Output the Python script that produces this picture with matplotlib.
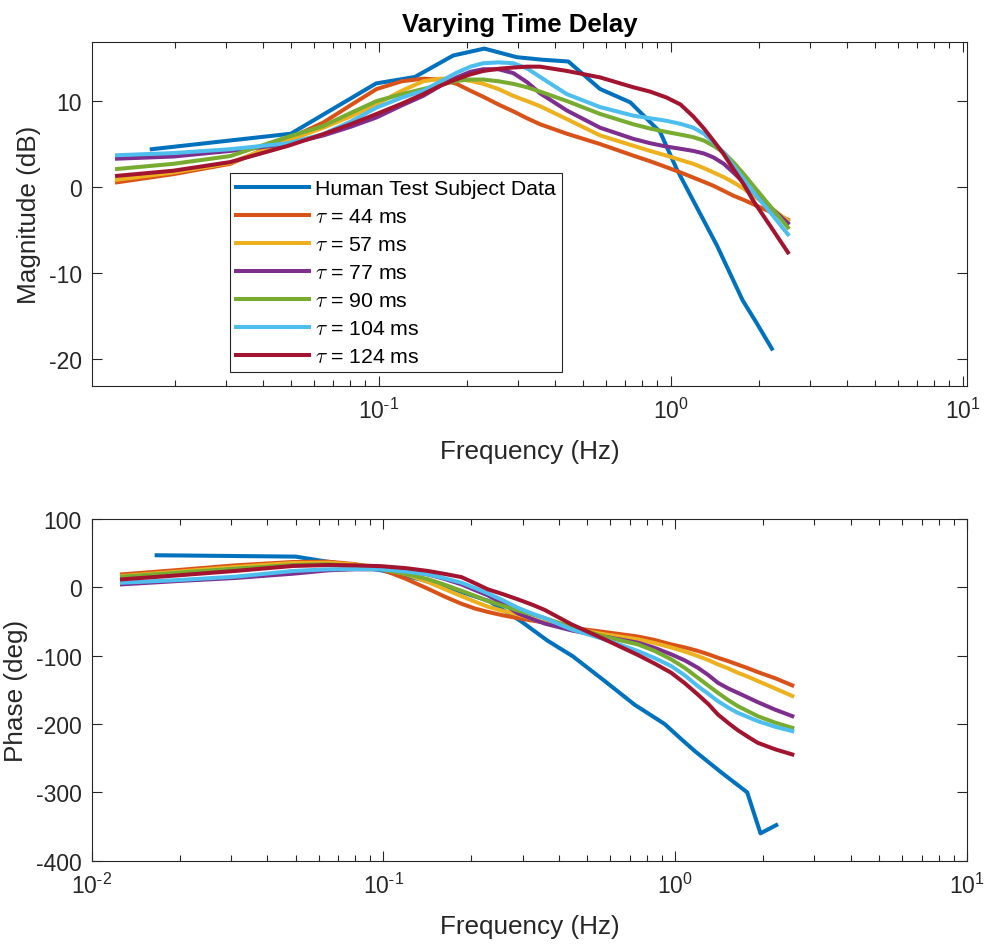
import numpy as np
import matplotlib
matplotlib.use("Agg")
from matplotlib import pyplot as plt
from matplotlib.ticker import FuncFormatter

plt.rcParams['font.family'] = ['Liberation Sans', 'DejaVu Sans']
plt.rcParams['mathtext.fontset'] = 'cm'
plt.rcParams['axes.unicode_minus'] = False

# human test subject data
freq_h = [0.0167, 0.05, 0.098, 0.133, 0.18, 0.23, 0.297, 0.365, 0.446, 0.573,
          0.727, 0.92, 1.048, 1.17, 1.44, 1.765, 1.96, 2.22]
mag_h = [4.4, 6.2, 12.05, 12.8, 15.3, 16.1, 15.1, 14.8, 14.6, 11.4,
         9.85, 6.4, 2.1, -1.0, -6.8, -13.2, -15.7, -18.8]
phase_h = [47, 45, 25, 12, -5, -20, -50, -78, -101, -137,
           -172, -200, -222, -240, -271, -300, -360, -348]

# model fits, one per time delay
taus = [44, 57, 77, 90, 104, 124]
freq_m = [0.0127, 0.0198, 0.031, 0.049, 0.0646, 0.08, 0.0984, 0.12, 0.142, 0.163,
          0.185, 0.206, 0.228, 0.257, 0.289, 0.322, 0.357, 0.441, 0.573, 0.745,
          0.85, 0.969, 1.08, 1.195, 1.30, 1.40, 1.52, 1.638, 1.78, 1.918,
          2.2, 2.52]
mag_m = [
    [0.55, 1.5, 2.7, 5.6, 7.5, 9.5, 11.4, 12.3, 12.6, 12.5,
     12.0, 11.2, 10.5, 9.6, 8.8, 8.0, 7.3, 6.2, 5.0, 3.65,
     3.0, 2.3, 1.7, 1.1, 0.6, 0.15, -0.45, -1.0, -1.5, -2.0,
     -2.9, -3.8],
    [0.85, 1.7, 2.8, 5.4, 6.9, 8.2, 9.65, 11.2, 12.3, 12.6,
     12.6, 12.35, 12.0, 11.4, 10.6, 10.0, 9.4, 7.9, 6.0, 4.8,
     4.2, 3.65, 3.15, 2.7, 2.2, 1.7, 1.15, 0.55, -0.2, -1.0,
     -2.4, -3.9],
    [3.3, 3.55, 4.2, 5.0, 6.0, 7.0, 8.1, 9.5, 10.6, 11.8,
     12.75, 13.4, 13.7, 13.7, 13.25, 12.2, 10.9, 8.9, 6.9, 5.6,
     5.1, 4.7, 4.45, 4.2, 3.9, 3.45, 2.7, 1.7, 0.5, -0.6,
     -2.4, -4.2],
    [2.1, 2.7, 3.6, 5.85, 7.1, 8.6, 10.0, 10.8, 11.4, 11.9,
     12.35, 12.5, 12.5, 12.3, 12.0, 11.6, 11.1, 10.0, 8.5, 7.3,
     6.8, 6.4, 6.1, 5.8, 5.4, 4.8, 4.0, 2.9, 1.5, 0.15,
     -2.3, -4.7],
    [3.7, 3.95, 4.4, 5.1, 6.15, 7.6, 9.25, 10.4, 11.2, 12.3,
     13.3, 14.0, 14.4, 14.5, 14.4, 13.8, 12.8, 10.8, 9.3, 8.3,
     8.0, 7.7, 7.35, 6.9, 6.2, 5.2, 4.0, 2.5, 0.9, -0.6,
     -3.0, -5.5],
    [1.3, 1.9, 2.9, 4.8, 6.15, 7.3, 8.5, 9.7, 10.8, 11.8,
     12.55, 13.1, 13.5, 13.75, 13.9, 14.0, 14.0, 13.5, 12.75, 11.6,
     11.1, 10.4, 9.6, 8.2, 6.8, 5.4, 3.8, 2.1, 0.3, -1.6,
     -4.6, -7.6],
]
phase_m = [
    [19, 25.4, 32.2, 37.1, 37.6, 34, 26.5, 12, -2, -14,
     -24, -31, -36, -41, -45, -48.5, -51.5, -59, -65.4, -72,
     -77, -83.5, -88, -93, -98, -103, -108, -113, -118.5, -124,
     -133, -143.5],
    [16.6, 23, 29.8, 35.6, 36.1, 33.5, 28.8, 19, 8, -3,
     -12.7, -21, -28.3, -34.5, -39.5, -46, -52, -60, -68.8, -76,
     -81.5, -88, -94, -100.5, -106.5, -112.7, -118.7, -124.9, -131, -137,
     -148, -159],
    [4.4, 9.3, 13.7, 20, 24.9, 26.5, 26.4, 23.5, 19, 12,
     4.4, -4, -11.7, -24, -38, -46, -53, -63, -72.2, -81,
     -88.5, -98, -107, -117.6, -128.5, -139.6, -148, -154.3, -161.5, -168,
     -179, -188.5],
    [15.6, 21.5, 27.3, 32.7, 33.7, 31, 26.4, 19.5, 12, 3.5,
     -5, -12.5, -20, -27, -34, -39.5, -45, -58, -72.2, -83.5,
     -93, -105.4, -118, -132.3, -144, -154.3, -165, -173.8, -181.5, -188.5,
     -198, -205.6],
    [6.8, 10.7, 15.6, 24, 26.4, 26.8, 26.4, 23, 19, 13,
     6.8, -1, -8.8, -19, -30, -38, -45, -61.5, -76.1, -93.2,
     -103.5, -115.2, -129, -144.5, -156, -166.5, -176, -183.6, -190, -195.8,
     -204, -210.4],
    [11.7, 17.6, 24, 31.3, 32.7, 32.2, 31, 28, 24, 19.5,
     15, 6, -2.9, -10, -17.6, -25, -33, -54.1, -76.1, -99,
     -111.5, -125, -140.5, -156.8, -171, -186, -198.5, -209, -219, -227.5,
     -237, -244.6],
]

colors = ['#0072BD', '#D95319', '#EDB120', '#7E2F8E', '#77AC30', '#4DBEEE', '#A2142F']
axcol = '#262626'
lw = 2.9


def decade_label(v, pos):
    e = int(round(np.log10(v)))
    s = str(e).replace('-', r'\text{-}')
    return r'$\mathdefault{10^{%s}}$' % s


fig = plt.figure(figsize=(9.88, 9.45), dpi=100, facecolor='white')
ax1 = fig.add_axes([0.0928, 0.5908, 0.8859, 0.364])
ax2 = fig.add_axes([0.0928, 0.0882, 0.8859, 0.3615])

ax1.semilogx(freq_h, mag_h, color=colors[0], lw=lw, solid_joinstyle='round',
             label='Human Test Subject Data')
for i, tau in enumerate(taus):
    ax1.semilogx(freq_m, mag_m[i], color=colors[i + 1], lw=lw, solid_joinstyle='round',
                 label=r'$\tau$ = %d ms' % tau)

ax2.semilogx(freq_h, phase_h, color=colors[0], lw=lw, solid_joinstyle='round')
for i, tau in enumerate(taus):
    ax2.semilogx(freq_m, phase_m[i], color=colors[i + 1], lw=lw, solid_joinstyle='round')

ax1.set_xlim(0.0104, 10.34)
ax1.set_ylim(-23.1, 16.9)
ax1.set_yticks([-20, -10, 0, 10])
ax2.set_xlim(0.01, 10)
ax2.set_ylim(-400, 100)
ax2.set_yticks([-400, -300, -200, -100, 0, 100])

for ax in (ax1, ax2):
    for s in ax.spines.values():
        s.set_color(axcol)
        s.set_linewidth(0.8)
    ax.xaxis.set_major_formatter(FuncFormatter(decade_label))
    ax.tick_params(which='both', direction='in', top=True, right=True, colors=axcol,
                   labelsize=16.5)
    ax.tick_params(axis='x', which='both', pad=9)
    ax.tick_params(axis='y', which='both', pad=7)
    ax.tick_params(which='major', length=7, width=0.8)
    ax.tick_params(which='minor', length=4, width=0.8)
    ax.set_xlabel('Frequency (Hz)', fontsize=18.8, color=axcol, labelpad=11)

ax1.set_ylabel('Magnitude (dB)', fontsize=18.8, color=axcol, labelpad=6)
ax2.set_ylabel('Phase (deg)', fontsize=18.8, color=axcol, labelpad=6)
ax1.set_title('Varying Time Delay', fontsize=18.5, fontweight='bold', color='black',
              pad=8, x=0.489)

leg = ax1.legend(loc='upper left', bbox_to_anchor=(0.158, 0.618), borderaxespad=0,
                 fontsize=15.3, handlelength=3.4, handletextpad=0.3, labelspacing=0.42,
                 borderpad=0.3, fancybox=False, framealpha=1)
leg.get_frame().set_edgecolor(axcol)
leg.get_frame().set_linewidth(0.8)
for t in leg.get_texts():
    t.set_color('black')

plt.savefig('out.png', dpi=100)
